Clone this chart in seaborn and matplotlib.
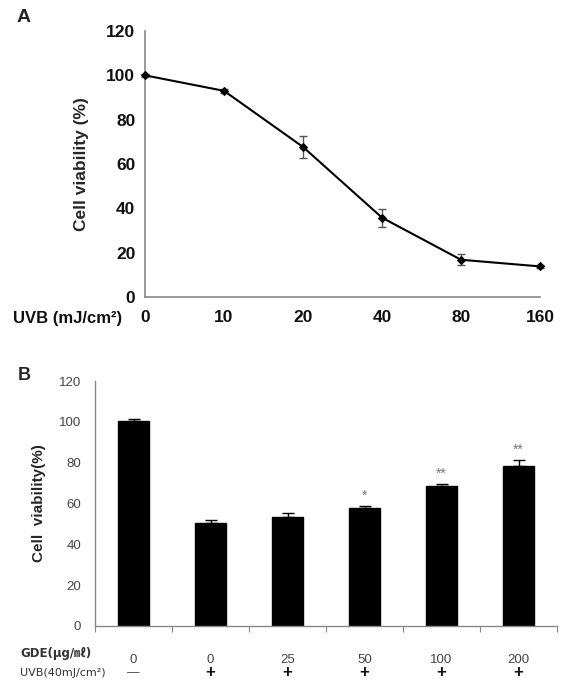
import matplotlib
matplotlib.use("Agg")
import matplotlib.pyplot as plt
import matplotlib.transforms as mtransforms
import seaborn as sns
import numpy as np
import pandas as pd

# ---- Panel A data ----
uvb_doses = ["0", "10", "20", "40", "80", "160"]
viability_a = [100.0, 93.0, 67.7, 35.8, 16.8, 13.8]
err_a = [0.8, 1.0, 5.0, 4.0, 2.5, 0.6]

# ---- Panel B data ----
gde_doses = ["0", "0", "25", "50", "100", "200"]
uvb_flags = ["—", "+", "+", "+", "+", "+"]
viability_b = [100.4, 50.4, 53.4, 57.6, 68.6, 78.6]
err_b = [1.0, 1.5, 2.0, 1.0, 1.0, 2.5]
signif_b = ["", "", "", "*", "**", "**"]

sns.set_theme(style="white")
plt.rcParams['font.family'] = ['Liberation Sans', 'DejaVu Sans', 'Noto Sans CJK KR']

fig = plt.figure(figsize=(5.64, 6.87), dpi=100)

# ================= Panel A =================
axA = fig.add_axes([145/564, 1-297/687, (540-145)/564, (297-31)/687])
dfA = pd.DataFrame({"pos": np.arange(len(uvb_doses)), "v": viability_a})
sns.lineplot(data=dfA, x="pos", y="v", ax=axA, color="black", lw=1.5,
             marker="D", markersize=4.5, markeredgecolor="black", zorder=3)
axA.errorbar(dfA["pos"], viability_a, yerr=err_a, fmt="none", ecolor="#555555",
             elinewidth=1.0, capsize=3, capthick=1.0, zorder=2)
axA.set_xlim(0, len(uvb_doses) - 1)
axA.set_ylim(0, 120)
axA.set_yticks(range(0, 121, 20))
axA.set_xticks(dfA["pos"])
axA.set_xticklabels(uvb_doses)
axA.set_xlabel("")
axA.set_ylabel("Cell viability (%)", fontsize=12.5, fontweight="bold", labelpad=12)
for s in ["top", "right"]:
    axA.spines[s].set_visible(False)
for s in ["left", "bottom"]:
    axA.spines[s].set_color("#888888")
    axA.spines[s].set_linewidth(1.2)
axA.tick_params(axis="both", direction="out", length=5, width=1.0, color="#888888",
                labelsize=12.5, labelcolor="#111111", pad=2)
axA.tick_params(axis="x", pad=4)
for lab in axA.get_xticklabels() + axA.get_yticklabels():
    lab.set_fontweight("bold")
for ln in axA.lines:
    ln.set_clip_on(False)
fig.text(13/564, 1-318/687, "UVB (mJ/cm²)", fontsize=12, fontweight="bold",
         va="center", ha="left", color="#111111")
fig.text(17/564, 1-18/687, "A", fontsize=14, fontweight="bold", va="center", ha="left")

# ================= Panel B =================
axB = fig.add_axes([95/564, 1-626/687, 462/564, 245/687])
dfB = pd.DataFrame({"cond": [f"c{i}" for i in range(len(gde_doses))], "v": viability_b})
sns.barplot(data=dfB, x="cond", y="v", ax=axB, color="black", width=0.4,
            saturation=1, errorbar=None, edgecolor="black")
xs = np.arange(len(gde_doses))
axB.errorbar(xs, viability_b, yerr=[np.zeros(len(err_b)), err_b], fmt="none",
             ecolor="black", elinewidth=1.0, capsize=4, capthick=1.0)
for x, v, e, s in zip(xs, viability_b, err_b, signif_b):
    if s:
        axB.text(x, v + e + 5, s, ha="center", va="center", fontsize=10, color="#777777")
axB.set_xlim(-0.5, len(gde_doses) - 0.5)
axB.set_ylim(0, 120)
axB.set_yticks(range(0, 121, 20))
axB.set_xticks(xs)
axB.set_xticklabels(gde_doses)
axB.set_xticks(np.arange(-0.5, len(gde_doses) + 0.5, 1), minor=True)
axB.set_xlabel("")
axB.set_ylabel("Cell  viability(%)", fontsize=11, fontweight="bold", labelpad=9)
for s in ["top", "right"]:
    axB.spines[s].set_visible(False)
for s in ["left", "bottom"]:
    axB.spines[s].set_color("#888888")
    axB.spines[s].set_linewidth(1.0)
axB.tick_params(axis="y", direction="out", length=4, width=0.8, color="#888888",
                labelsize=9.5, labelcolor="#444444", pad=6)
axB.tick_params(axis="x", which="major", length=0, labelsize=9.5, labelcolor="#444444", pad=20)
axB.tick_params(axis="x", which="minor", direction="out", length=4, width=0.8,
                color="#888888", bottom=True)
tr = mtransforms.blended_transform_factory(axB.transData, fig.transFigure)
for x, f in zip(xs, uvb_flags):
    axB.text(x, 1-673/687, f, transform=tr, ha="center", va="center",
             fontsize=12 if f == "+" else 9, fontweight="bold" if f == "+" else "normal",
             color="#111111" if f == "+" else "#444444")
fig.text(20/564, 1-653/687, "GDE(μg/㎖)", fontsize=8.5, fontweight="bold", color="#333333",
         va="center", ha="left", family=['DejaVu Sans', 'Noto Sans CJK KR'])
fig.text(20/564, 1-673/687, "UVB(40mJ/cm²)", fontsize=8, color="#333333",
         va="center", ha="left", family=['DejaVu Sans', 'Noto Sans CJK KR'])
fig.text(18/564, 1-375/687, "B", fontsize=13, fontweight="bold", va="center", ha="left")

fig.savefig("out.png", dpi=100)
